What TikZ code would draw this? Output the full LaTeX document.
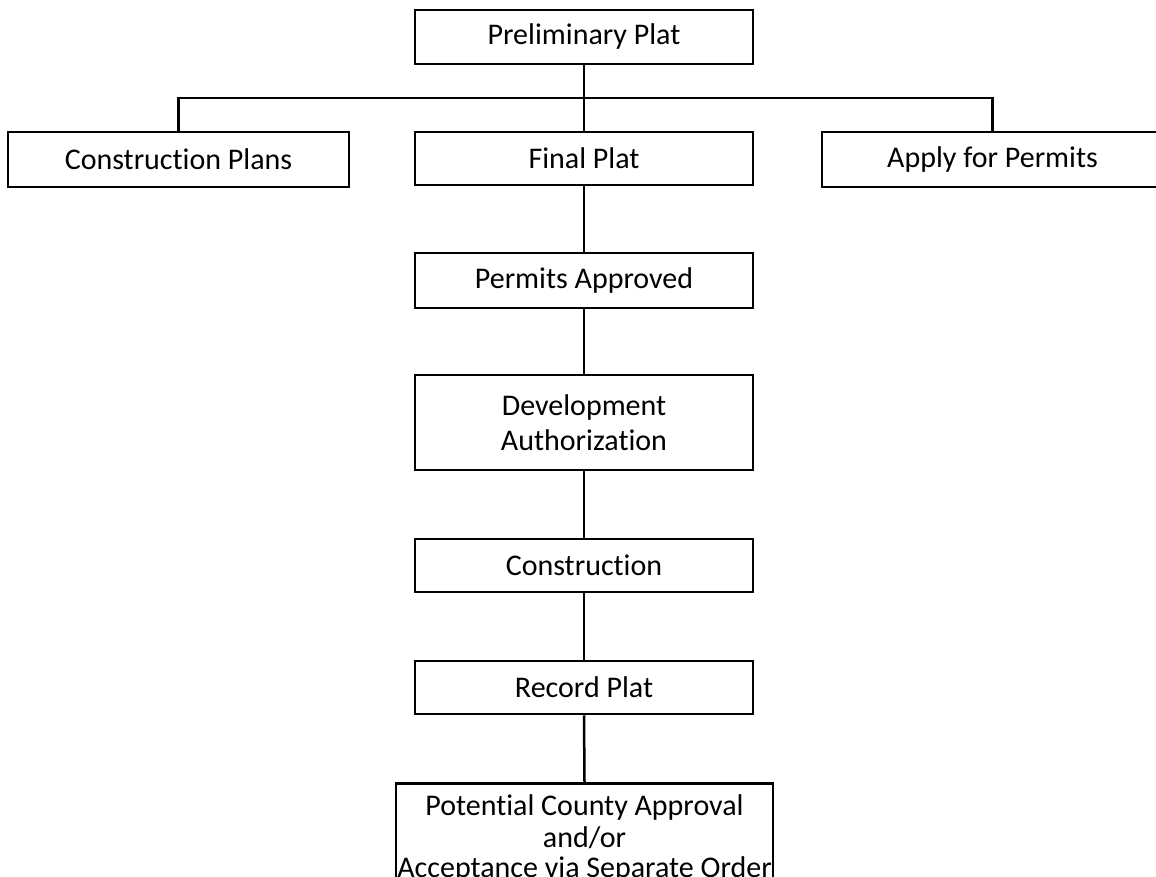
\documentclass[tikz,border=0pt]{standalone}
\usepackage{fontspec}
\setmainfont[Ligatures=NoCommon]{Carlito}
\begin{document}
\begin{tikzpicture}[x=1pt,y=1pt,
  stepbox/.style={draw=black, line width=2.5pt, fill=white, inner sep=0pt,
    minimum width=338pt, minimum height=54pt, align=center,
    font=\fontsize{30}{32}\selectfont},
  link/.style={draw=black, line width=2.5pt}]
\useasboundingbox (0,0) rectangle (1156,-877);
\clip (0,0) rectangle (1156,-877);
\fill[white] (0,0) rectangle (1156,-877);
\node[stepbox] (pp) at (584,-37) {Preliminary Plat};
\node[stepbox, minimum width=341pt, minimum height=55pt] (cp) at (178.5,-159.5) {Construction Plans};
\node[stepbox, minimum height=53pt] (fp) at (584,-158.5) {Final Plat};
\node[stepbox, minimum width=341pt, minimum height=55pt] (ap) at (992.5,-159.5) {Apply for Permits};
\node[stepbox, minimum height=55pt] (pa) at (584,-280.5) {Permits Approved};
\node[stepbox, minimum height=95pt, font=\fontsize{30}{35}\selectfont] (da) at (584,-422.5) {Development\\Authorization};
\node[stepbox, minimum height=53pt] (co) at (584,-565.5) {Construction};
\node[stepbox, minimum height=53pt] (rp) at (584,-687.5) {Record Plat};
\node[stepbox, minimum width=377pt, minimum height=110pt, anchor=north, font=\fontsize{30}{27}\selectfont] (pc) at (584.5,-782) {Potential County Approval\\[5pt]and/or\\[3pt]Acceptance via Separate Order};
\coordinate (j) at (584,-98);
\draw[link] (pp.south) -- (fp.north);
\draw[link] (cp.north) |- (j) -| (ap.north);
\draw[link] (fp.south) -- (pa.north);
\draw[link] (pa.south) -- (da.north);
\draw[link] (da.south) -- (co.north);
\draw[link] (co.south) -- (rp.north);
\draw[link] (rp.south) -- (pc.north);
\end{tikzpicture}
\end{document}
